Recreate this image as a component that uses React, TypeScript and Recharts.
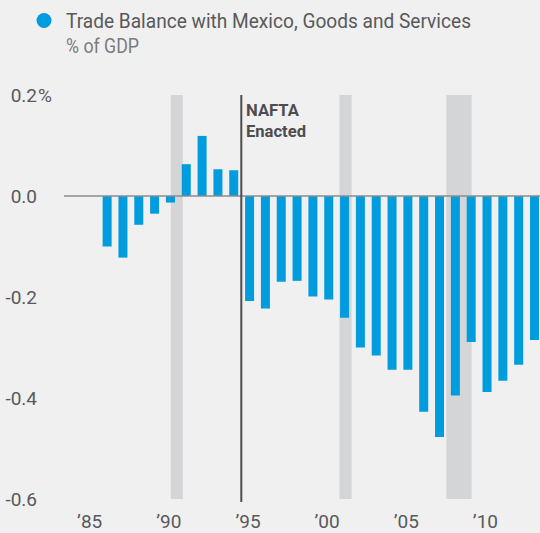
import { BarChart, Bar, XAxis, YAxis, ReferenceArea, ReferenceLine } from 'recharts';

const years = [
  1986, 1987, 1988, 1989, 1990, 1991, 1992, 1993, 1994, 1995, 1996, 1997, 1998, 1999,
  2000, 2001, 2002, 2003, 2004, 2005, 2006, 2007, 2008, 2009, 2010, 2011, 2012, 2013,
];
const balance = [
  -0.1, -0.122, -0.057, -0.035, -0.013, 0.063, 0.119, 0.053, 0.051, -0.208, -0.223, -0.17,
  -0.168, -0.199, -0.205, -0.241, -0.3, -0.316, -0.344, -0.344, -0.427, -0.477, -0.395,
  -0.289, -0.388, -0.366, -0.334, -0.285,
];
// recession periods, in the axis' year units (bars sit on the year value)
const recessions = [
  [1990.0, 1990.75],
  [2000.65, 2001.42],
  [2007.4, 2009.0],
];
const naftaYear = 1994.45;
const xTicks = [1985, 1990, 1995, 2000, 2005, 2010];
const yTicks = [-0.6, -0.4, -0.2, 0, 0.2];

const data = years.map((y, i) => ({ year: y, value: balance[i] }));

const FONT = 'Roboto, "Noto Sans", sans-serif';
const TEXT = '#58595b';
const BLUE = '#009cde';

function YTick(props: any) {
  const { y, payload } = props;
  const v = payload.value as number;
  const label = v === 0 ? '0.0' : v.toFixed(1);
  return (
    <g>
      <text x={37} y={y + 7} textAnchor="end" fontFamily={FONT} fontSize={19} fill={TEXT}>
        {label}
      </text>
      {v === 0.2 && (
        <text x={38} y={y + 7} textAnchor="start" fontFamily={FONT} fontSize={19} fill={TEXT}>
          %
        </text>
      )}
    </g>
  );
}

function XTick(props: any) {
  const { x, payload } = props;
  const label = '\u2019' + String(payload.value).slice(2);
  return (
    <text x={x - 2} y={528} textAnchor="middle" fontFamily={FONT} fontSize={19} fill={TEXT}>
      {label}
    </text>
  );
}

export default function App() {
  return (
    <div style={{ position: 'absolute', left: 0, top: 0, width: 540, height: 533, background: '#f0f0f0' }}>
      <BarChart width={540} height={533} data={data} margin={{ top: 95, right: 0, bottom: 0, left: 0 }}>
        <XAxis
          dataKey="year"
          type="number"
          domain={[1983.25, 2013.32]}
          allowDataOverflow
          ticks={xTicks}
          height={34}
          axisLine={false}
          tickLine={false}
          tick={<XTick />}
          interval={0}
        />
        <YAxis
          type="number"
          domain={[-0.6, 0.2]}
          ticks={yTicks}
          width={64}
          axisLine={false}
          tickLine={false}
          tick={<YTick />}
          interval={0}
        />
        {recessions.map((r, i) => (
          <ReferenceArea key={i} x1={r[0]} x2={r[1]} y1={-0.6} y2={0.2} fill="#d4d5d7" fillOpacity={1} stroke="none" />
        ))}
        <Bar dataKey="value" fill={BLUE} barSize={9} isAnimationActive={false} />
        <ReferenceLine y={0} stroke="#8c8c8c" strokeWidth={1.5} />
        <ReferenceLine
          segment={[{ x: naftaYear, y: 0.2 }, { x: naftaYear, y: -0.606 }]}
          stroke="#4d4d4f"
          strokeWidth={2}
          ifOverflow="visible"
        />
      </BarChart>
      <svg width={540} height={533} style={{ position: 'absolute', left: 0, top: 0, pointerEvents: 'none' }}>
        <circle cx={44} cy={20.5} r={7.5} fill={BLUE} />
        <text x={66} y={28} fontFamily={FONT} fontSize={21} fill={TEXT} textLength={405} lengthAdjust="spacingAndGlyphs">
          Trade Balance with Mexico, Goods and Services
        </text>
        <text x={66} y={53} fontFamily={FONT} fontSize={21} fill="#7b7c7e" textLength={73} lengthAdjust="spacingAndGlyphs">
          % of GDP
        </text>
        <text x={246} y={116} fontFamily={FONT} fontSize={17} fontWeight="bold" fill="#4d4d4f" textLength={53} lengthAdjust="spacingAndGlyphs">
          NAFTA
        </text>
        <text x={246} y={137} fontFamily={FONT} fontSize={17} fontWeight="bold" fill="#4d4d4f" textLength={60} lengthAdjust="spacingAndGlyphs">
          Enacted
        </text>
      </svg>
    </div>
  );
}
